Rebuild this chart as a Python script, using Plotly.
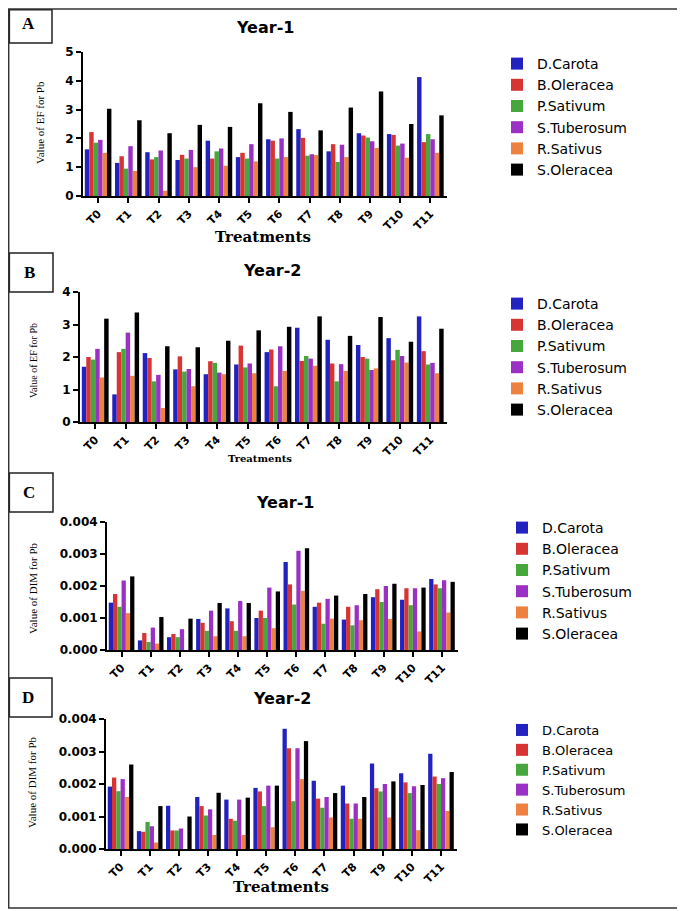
import plotly.graph_objects as go

# treatments on the x axis
treatments = ["T0", "T1", "T2", "T3", "T4", "T5", "T6", "T7", "T8", "T9", "T10", "T11"]
species = ["D.Carota", "B.Oleracea", "P.Sativum", "S.Tuberosum", "R.Sativus", "S.Oleracea"]
colors = ["#2222c0", "#d83434", "#46a83c", "#9a30c4", "#ee8040", "#000000"]

# A - EF for Pb, year 1
ef1_carota = [1.62, 1.15, 1.52, 1.25, 1.92, 1.35, 1.97, 2.32, 1.55, 2.18, 2.15, 4.13]
ef1_oleracea_b = [2.22, 1.38, 1.27, 1.43, 1.30, 1.50, 1.92, 2.02, 1.80, 2.10, 2.12, 1.87]
ef1_sativum_p = [1.85, 0.95, 1.35, 1.30, 1.55, 1.30, 1.30, 1.40, 1.18, 2.03, 1.75, 2.15]
ef1_tuberosum = [1.95, 1.73, 1.58, 1.60, 1.65, 1.80, 2.00, 1.45, 1.78, 1.90, 1.82, 1.97]
ef1_sativus_r = [1.50, 0.87, 0.18, 1.00, 1.05, 1.20, 1.35, 1.42, 1.35, 1.67, 1.33, 1.50]
ef1_oleracea_s = [3.03, 2.63, 2.18, 2.47, 2.40, 3.22, 2.92, 2.28, 3.07, 3.63, 2.50, 2.80]

# B - EF for Pb, year 2
ef2_carota = [1.70, 0.85, 2.12, 1.62, 1.47, 1.77, 2.15, 2.90, 2.53, 2.37, 2.58, 3.25]
ef2_oleracea_b = [2.00, 2.15, 1.97, 2.02, 1.87, 2.35, 2.23, 1.88, 1.80, 2.00, 1.90, 2.18]
ef2_sativum_p = [1.92, 2.25, 1.25, 1.55, 1.82, 1.68, 1.10, 2.03, 1.25, 1.95, 2.22, 1.77]
ef2_tuberosum = [2.25, 2.75, 1.45, 1.63, 1.52, 1.80, 2.33, 1.95, 1.78, 1.60, 2.03, 1.82]
ef2_sativus_r = [1.37, 1.42, 0.43, 1.10, 1.47, 1.50, 1.57, 1.73, 1.57, 1.65, 1.83, 1.50]
ef2_oleracea_s = [3.18, 3.37, 2.33, 2.30, 2.50, 2.82, 2.93, 3.25, 2.65, 3.23, 2.47, 2.87]

# C - DIM for Pb, year 1
dim1_carota = [0.00148, 0.00030, 0.00040, 0.00097, 0.00130, 0.00100, 0.00275, 0.00135, 0.00095, 0.00165, 0.00157, 0.00222]
dim1_oleracea_b = [0.00175, 0.00053, 0.00050, 0.00085, 0.00090, 0.00123, 0.00205, 0.00148, 0.00135, 0.00190, 0.00193, 0.00205]
dim1_sativum_p = [0.00135, 0.00025, 0.00040, 0.00060, 0.00060, 0.00100, 0.00142, 0.00082, 0.00077, 0.00150, 0.00140, 0.00193]
dim1_tuberosum = [0.00217, 0.00070, 0.00065, 0.00123, 0.00153, 0.00195, 0.00310, 0.00160, 0.00140, 0.00200, 0.00193, 0.00218]
dim1_sativus_r = [0.00115, 0.00020, 0.00000, 0.00043, 0.00043, 0.00068, 0.00185, 0.00098, 0.00093, 0.00097, 0.00058, 0.00117]
dim1_oleracea_s = [0.00230, 0.00103, 0.00098, 0.00147, 0.00147, 0.00183, 0.00318, 0.00170, 0.00175, 0.00207, 0.00195, 0.00213]

# D - DIM for Pb, year 2
dim2_carota = [0.00192, 0.00055, 0.00133, 0.00160, 0.00152, 0.00188, 0.00370, 0.00210, 0.00195, 0.00263, 0.00233, 0.00293]
dim2_oleracea_b = [0.00220, 0.00053, 0.00057, 0.00132, 0.00093, 0.00177, 0.00310, 0.00155, 0.00140, 0.00187, 0.00205, 0.00223]
dim2_sativum_p = [0.00178, 0.00083, 0.00057, 0.00103, 0.00087, 0.00132, 0.00147, 0.00127, 0.00093, 0.00177, 0.00172, 0.00200]
dim2_tuberosum = [0.00215, 0.00070, 0.00063, 0.00122, 0.00152, 0.00195, 0.00310, 0.00160, 0.00140, 0.00200, 0.00193, 0.00218]
dim2_sativus_r = [0.00160, 0.00020, 0.00000, 0.00043, 0.00043, 0.00067, 0.00215, 0.00097, 0.00093, 0.00097, 0.00058, 0.00117]
dim2_oleracea_s = [0.00260, 0.00132, 0.00100, 0.00173, 0.00158, 0.00195, 0.00332, 0.00172, 0.00160, 0.00208, 0.00197, 0.00237]

panels = [
    ("", "legend", [ef1_carota, ef1_oleracea_b, ef1_sativum_p, ef1_tuberosum, ef1_sativus_r, ef1_oleracea_s]),
    ("2", "legend2", [ef2_carota, ef2_oleracea_b, ef2_sativum_p, ef2_tuberosum, ef2_sativus_r, ef2_oleracea_s]),
    ("3", "legend3", [dim1_carota, dim1_oleracea_b, dim1_sativum_p, dim1_tuberosum, dim1_sativus_r, dim1_oleracea_s]),
    ("4", "legend4", [dim2_carota, dim2_oleracea_b, dim2_sativum_p, dim2_tuberosum, dim2_sativus_r, dim2_oleracea_s]),
]

W, H = 685, 911
OFF = 8  # page body margin, positions below are in page pixels
fx = lambda p: (p - OFF) / W
fy = lambda p: 1 - (p - OFF) / H

fig = go.Figure()
for suffix, leg, series in panels:
    for name, col, vals in zip(species, colors, series):
        fig.add_trace(go.Bar(x=treatments, y=vals, name=name, marker_color=col,
                             marker_line_width=0, xaxis="x" + suffix, yaxis="y" + suffix,
                             legend=leg))

tickfont = dict(family="DejaVu Sans", size=12, color="black", weight="bold")
xtickfont = dict(family="DejaVu Sans", size=11, color="black", weight="bold")

def xax(x0, x1, anchor):
    return dict(domain=[fx(x0), fx(x1)], anchor=anchor, range=[-0.5, 11.55],
                showline=True, linecolor="black", linewidth=2, ticks="outside",
                ticklen=5, tickwidth=2, tickcolor="black", tickangle=-45,
                tickfont=xtickfont, showgrid=False, zeroline=False, fixedrange=True)

def yax(y_top, y_bot, anchor, rng, dtick, fmt=None):
    d = dict(domain=[fy(y_bot), fy(y_top)], anchor=anchor, range=rng, dtick=dtick,
             showline=True, linecolor="black", linewidth=2, ticks="outside",
             ticklen=5, tickwidth=2, tickcolor="black", tickfont=tickfont,
             showgrid=False, zeroline=False)
    if fmt:
        d["tickformat"] = fmt
    return d

leg_common = dict(xanchor="left", yanchor="top", bgcolor="rgba(0,0,0,0)",
                  itemwidth=30, tracegroupgap=0)

fig.update_layout(
    width=W, height=H, margin=dict(l=0, r=0, t=0, b=0, autoexpand=False),
    paper_bgcolor="white", plot_bgcolor="white",
    barmode="group", bargap=0.12, bargroupgap=0,
    xaxis=xax(83, 447, "y"), yaxis=yax(52, 196, "x", [0, 5], 1),
    xaxis2=xax(80, 447, "y2"), yaxis2=yax(292, 422, "x2", [0, 4], 1),
    xaxis3=xax(107, 458, "y3"), yaxis3=yax(522, 650, "x3", [0, 0.004], 0.001, ".3f"),
    xaxis4=xax(106, 457, "y4"), yaxis4=yax(719, 849, "x4", [0, 0.004], 0.001, ".3f"),
    legend=dict(x=fx(497), y=fy(48), font=dict(family="DejaVu Sans", size=14, color="black"), **leg_common),
    legend2=dict(x=fx(497), y=fy(288), font=dict(family="DejaVu Sans", size=14, color="black"), **leg_common),
    legend3=dict(x=fx(502), y=fy(512), font=dict(family="DejaVu Sans", size=14, color="black"), **leg_common),
    legend4=dict(x=fx(502), y=fy(715), font=dict(family="DejaVu Sans", size=13, color="black"), **leg_common),
)

title_font = dict(family="DejaVu Sans", size=16, color="black", weight="bold")
ytitle_font = dict(family="Liberation Serif", size=11, color="black")
xtitle_font = dict(family="DejaVu Serif", size=15, color="black", weight="bold")
box_font = dict(family="Liberation Serif", size=17, color="black", weight="bold")

annots = [
    ("Year-1", 265, 28, 0, title_font), ("Year-2", 272, 271, 0, title_font),
    ("Year-1", 285, 502, 0, title_font), ("Year-2", 282, 698, 0, title_font),
    ("Value of EF for Pb", 40, 122, -90, ytitle_font),
    ("Value of EF for Pb", 33, 360, -90, dict(ytitle_font, size=10)),
    ("Value of DIM for Pb", 33, 588, -90, ytitle_font),
    ("Value of DIM for Pb", 32, 782, -90, ytitle_font),
    ("Treatments", 263, 237, 0, xtitle_font),
    ("Treatments", 260, 458, 0, dict(xtitle_font, size=10)),
    ("Treatments", 281, 887, 0, xtitle_font),
    ("A", 28, 24, 0, box_font), ("B", 29, 272, 0, box_font),
    ("C", 29, 492, 0, box_font), ("D", 28, 697, 0, box_font),
]
for text, x, y, ang, font in annots:
    fig.add_annotation(text=text, x=fx(x), y=fy(y), xref="paper", yref="paper",
                       showarrow=False, textangle=ang, font=font,
                       xanchor="center", yanchor="middle")

# label boxes and outer frame (left/top edges kept just inside the figure)
for x0, y0, x1, y1 in [(3, 5, 52, 43), (3, 253, 53, 292), (5, 473, 53, 512), (3, 678, 52, 717)]:
    fig.add_shape(type="rect", xref="paper", yref="paper", x0=max(fx(x0), 0.002), x1=fx(x1),
                  y0=fy(y1), y1=min(fy(y0), 0.998), line=dict(color="#222", width=1.5))
fig.add_shape(type="rect", xref="paper", yref="paper", x0=0.001, x1=fx(682),
              y0=fy(908), y1=0.999, line=dict(color="#333", width=1.5))

fig.write_html("out.html")
